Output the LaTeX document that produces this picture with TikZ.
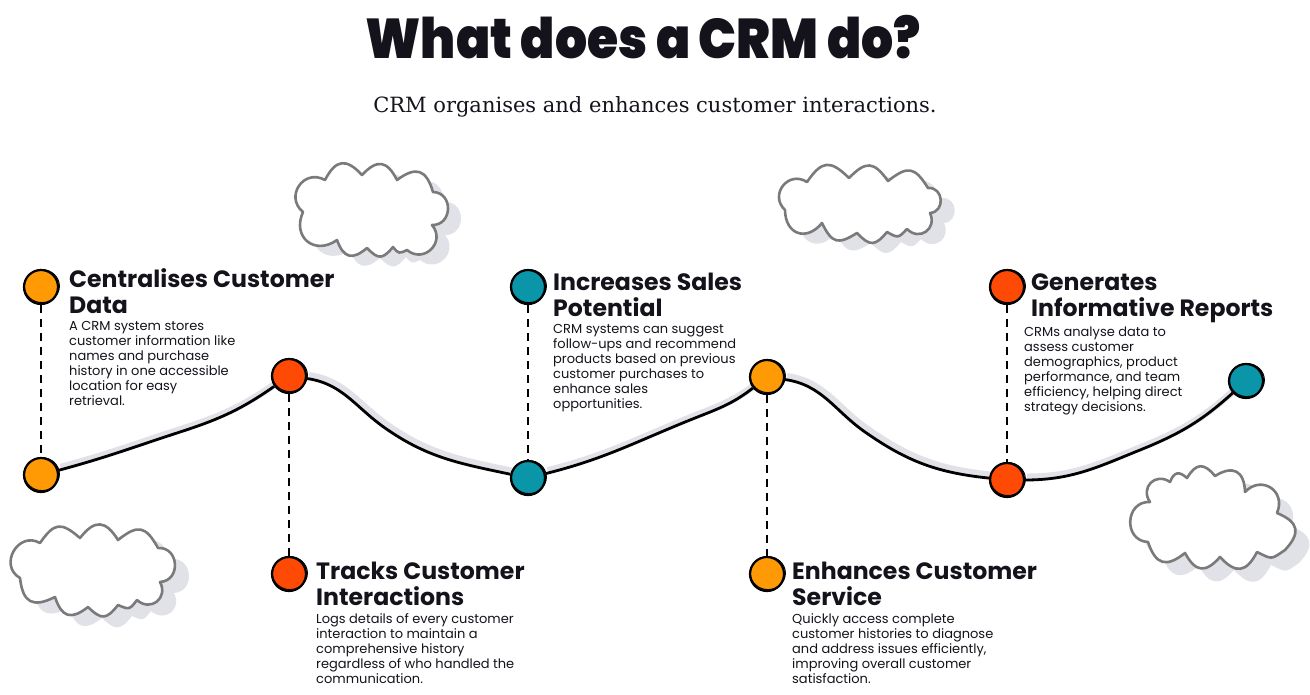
\documentclass[tikz,border=0pt]{standalone}
\usepackage{fontspec}
\setmainfont{Poppins}
\newfontfamily\titlefont{Poppins Black}
\newfontfamily\subfont{DejaVu Serif}
\usepackage{tikz}
\usetikzlibrary{backgrounds,
                positioning}
\definecolor{dotorange}{HTML}{FF9A05}
\definecolor{dotred}{HTML}{FF4A05}
\definecolor{dotteal}{HTML}{0A96A8}
\definecolor{shade}{HTML}{E1E2E8}
\definecolor{cloudline}{HTML}{7A7A7A}
\definecolor{ink}{HTML}{14121A}
\tikzstyle{dot} = [circle, minimum size=34pt, inner sep=0pt, draw=black, line width=2.2pt]
\tikzstyle{head} = [anchor=north west, inner sep=0pt, align=left, text=ink, font=\fontsize{23.6}{26}\selectfont\bfseries]
\tikzstyle{body} = [inner sep=0pt, align=left, text=ink, font=\fontsize{13}{15}\selectfont]
\tikzstyle{wave} = [line width=2.8pt, draw=black]
\tikzstyle{waveshade} = [line width=7pt, draw=shade, transform canvas={shift={(2pt,3pt)}}]
\tikzstyle{link} = [line width=2pt, dash pattern=on 8pt off 6pt]
\tikzstyle{scribble} = [line width=1pt, draw=black]
\tikzstyle{cloudshade} = [fill=shade, draw=none]
\tikzstyle{cloudedge} = [draw=cloudline, fill=white, line width=2.6pt, line join=round]
\newcommand{\cloudpath}[2]{(#1) \foreach \px/\py/\pb in #2 { to[bend left=\pb, looseness=1.6] (\px,\py) } -- cycle}
\newcommand{\wavepath}{(d1) to[out=15, in=198] (w1) to[out=18, in=215] (d2)
  to[out=-8, in=145] (w2) to[out=-35, in=168] (d3)
  to[out=14, in=202] (w3) to[out=22, in=218] (d4)
  to[out=-8, in=145] (w4) to[out=-35, in=174] (d5)
  to[out=0, in=202] (w5) to[out=22, in=222] (d6)}
\newcommand{\cloudA}{325/180/85,362/175/55,397/180/55,433/192/55,432/225/90,407/250/85,393/247/38,367/248/48,337/240/55,303/212/75}
\newcommand{\cloudB}{849/178/50,888/181/50,928/188/48,930/213/90,907/229/80,887/232/38,857/233/48,822/223/48,785/210/70,807/182/85}
\newcommand{\cloudC}{80/538/48,118/540/55,158/548/50,160/582/90,137/600/80,118/605/38,88/607/48,55/597/55,20/578/55,40/543/90}
\newcommand{\cloudD}{1170/482/80,1187/478/55,1215/476/55,1245/492/60,1277/513/80,1285/550/55,1257/552/30,1220/557/55,1185/553/55,1148/542/55,1150/502/90}
\begin{document}
\begin{tikzpicture}[x=1pt, y=-1pt]
\useasboundingbox (0,0) rectangle (1310,694);
\node (title) [font=\fontsize{56}{60}\titlefont, text=ink, xscale=.9] at (643,37) {What does a CRM do?};
\node (sub) [font=\fontsize{21}{24}\subfont, text=ink] at (655,107) {CRM organises and enhances customer interactions.};
% clouds
\path [cloudshade, shift={(13,10)}] \cloudpath{303,212}{\cloudA};
\path [cloudedge] \cloudpath{303,212}{\cloudA};
\path [cloudshade, shift={(14,10)}] \cloudpath{807,182}{\cloudB};
\path [cloudedge] \cloudpath{807,182}{\cloudB};
\path [cloudshade, shift={(14,11)}] \cloudpath{40,543}{\cloudC};
\path [cloudedge] \cloudpath{40,543}{\cloudC};
\path [cloudshade, shift={(14,13)}] \cloudpath{1150,502}{\cloudD};
\path [cloudedge] \cloudpath{1150,502}{\cloudD};
% the dots
\node (d1) [dot, fill=dotorange] at (41,475) {};
\node (d2) [dot, fill=dotred] at (289,376) {};
\node (d3) [dot, fill=dotteal] at (528,478) {};
\node (d4) [dot, fill=dotorange] at (767,377) {};
\node (d5) [dot, fill=dotred] at (1007,480) {};
\node (d6) [dot, fill=dotteal] at (1246,381) {};
\node (t1) [dot, fill=dotorange] at (41,287) {};
\node (t2) [dot, fill=dotred] at (289,574) {};
\node (t3) [dot, fill=dotteal] at (528,287) {};
\node (t4) [dot, fill=dotorange] at (767,574) {};
\node (t5) [dot, fill=dotred] at (1007,287) {};
\coordinate (w1) at (180,432);
\coordinate (w2) at (385,428);
\coordinate (w3) at (690,420);
\coordinate (w4) at (865,432);
\coordinate (w5) at (1140,450);
\begin{scope}[on background layer]
\draw [waveshade] \wavepath;
\draw [wave] \wavepath;
\end{scope}
\foreach \n in {d1,d2,d3,d4,d5,d6,t1,t2,t3,t4,t5}
  \draw [scribble] ([shift={(.9,-.9)}]\n.center) ellipse [x radius=17.5, y radius=16.5];
\draw [link] (t1) -- (d1);
\draw [link] (d2) -- (t2);
\draw [link] (t3) -- (d3);
\draw [link] (d4) -- (t4);
\draw [link] (t5) -- (d5);
% the texts
\node (h1) [head] at (69,268) {Centralises Customer\\Data};
\node (b1) [body, below=8pt of h1.south west, anchor=north west] {A CRM system stores\\customer information like\\names and purchase\\history in one accessible\\location for easy\\retrieval.};
\node (h2) [head] at (316,562) {Tracks Customer\\Interactions};
\node (b2) [body, below=7pt of h2.south west, anchor=north west] {Logs details of every customer\\interaction to maintain a\\comprehensive history\\regardless of who handled the\\communication.};
\node (h3) [head] at (553,273) {Increases Sales\\Potential};
\node (b3) [body, below=7pt of h3.south west, anchor=north west] {CRM systems can suggest\\follow-ups and recommend\\products based on previous\\customer purchases to\\enhance sales\\opportunities.};
\node (h4) [head] at (792,562) {Enhances Customer\\Service};
\node (b4) [body, below=7pt of h4.south west, anchor=north west] {Quickly access complete\\customer histories to diagnose\\and address issues efficiently,\\improving overall customer\\satisfaction.};
\node (h5) [head] at (1031,274) {Generates\\Informative Reports};
\node (b5) [body, anchor=north west] at (1024,327) {CRMs analyse data to\\assess customer\\demographics, product\\performance, and team\\efficiency, helping direct\\strategy decisions.};
\end{tikzpicture}
\end{document}
